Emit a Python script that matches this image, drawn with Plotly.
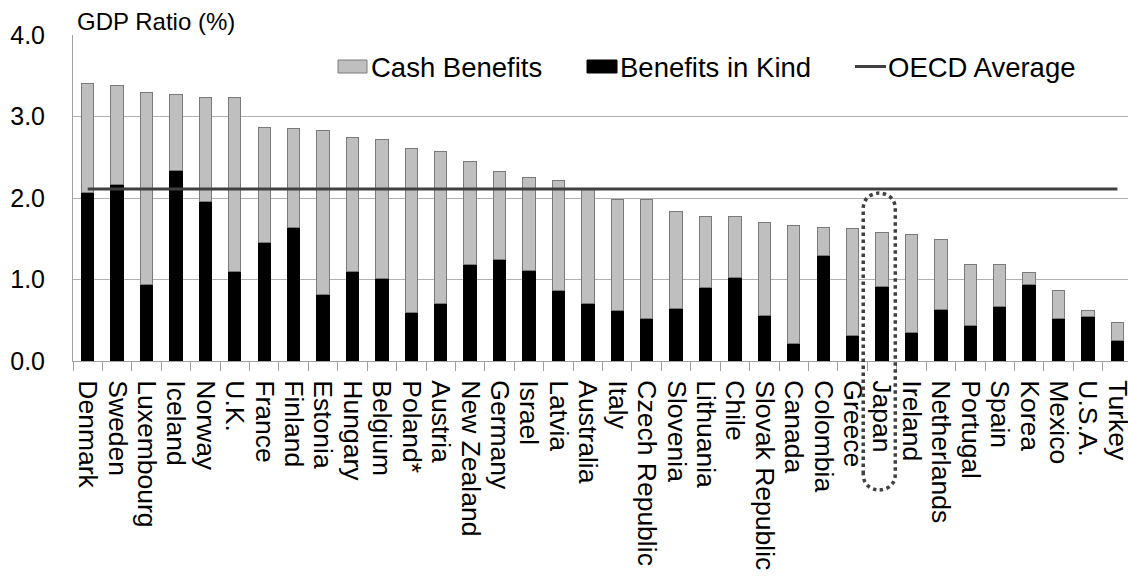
import plotly.graph_objects as go

countries = ["Denmark", "Sweden", "Luxembourg", "Iceland", "Norway", "U.K.", "France", "Finland",
             "Estonia", "Hungary", "Belgium", "Poland*", "Austria", "New Zealand", "Germany", "Israel",
             "Latvia", "Australia", "Italy", "Czech Republic", "Slovenia", "Lithuania", "Chile",
             "Slovak Republic", "Canada", "Colombia", "Greece", "Japan", "Ireland", "Netherlands",
             "Portugal", "Spain", "Korea", "Mexico", "U.S.A.", "Turkey"]

benefits_in_kind = [2.07, 2.16, 0.94, 2.34, 1.96, 1.10, 1.45, 1.64, 0.81, 1.10, 1.01, 0.60, 0.70, 1.18,
                    1.24, 1.11, 0.86, 0.70, 0.62, 0.52, 0.65, 0.90, 1.03, 0.56, 0.22, 1.30, 0.31, 0.92,
                    0.35, 0.63, 0.43, 0.67, 0.94, 0.52, 0.54, 0.25]
total = [3.40, 3.38, 3.29, 3.27, 3.23, 3.23, 2.87, 2.85, 2.83, 2.74, 2.72, 2.61, 2.57, 2.45, 2.32, 2.25,
         2.21, 2.10, 1.98, 1.98, 1.83, 1.77, 1.77, 1.70, 1.66, 1.64, 1.62, 1.58, 1.55, 1.49, 1.19, 1.19,
         1.09, 0.86, 0.62, 0.47]
cash_benefits = [round(t - k, 2) for t, k in zip(total, benefits_in_kind)]
oecd_average = 2.11

y_tick_vals = [0, 1, 2, 3, 4]
y_tick_text = ["0.0", "1.0", "2.0", "3.0", "4.0"]

FONT = "Liberation Sans, Arial, sans-serif"
W, H = 1128, 579
L, T, B = 73, 35, 218
x_range = [-0.5, 35.36]
plot_w = W - L
plot_h = H - T - B

fig = go.Figure()
fig.add_trace(go.Bar(x=countries, y=benefits_in_kind, name="Benefits in Kind",
                     marker=dict(color="#000000", line=dict(color="#000000", width=1)),
                     width=0.42, showlegend=False))
fig.add_trace(go.Bar(x=countries, y=cash_benefits, name="Cash Benefits",
                     marker=dict(color="#bfbfbf", line=dict(color="#7a7a7a", width=1)),
                     width=0.42, showlegend=False))
fig.add_trace(go.Scatter(x=countries, y=[oecd_average] * len(countries), mode="lines",
                         name="OECD Average", line=dict(color="#404040", width=3),
                         showlegend=False))


def px_x(p):
    return (p - L) / plot_w


def px_y(p):
    return (H - B - p) / plot_h


shapes = []
# legend swatches
shapes.append(dict(type="rect", xref="paper", yref="paper", x0=px_x(338), x1=px_x(367),
                   y0=px_y(73), y1=px_y(60), fillcolor="#bfbfbf", line=dict(color="#7a7a7a", width=1)))
shapes.append(dict(type="rect", xref="paper", yref="paper", x0=px_x(587), x1=px_x(617),
                   y0=px_y(73), y1=px_y(60), fillcolor="#000000", line=dict(color="#000000", width=1)))
shapes.append(dict(type="line", xref="paper", yref="paper", x0=px_x(855), x1=px_x(886),
                   y0=px_y(66.5), y1=px_y(66.5), line=dict(color="#404040", width=3)))

# dotted highlight around Japan
ji = countries.index("Japan")
span = x_range[1] - x_range[0]


def cx(v):
    return (v - x_range[0]) / span


xl, xr = cx(ji - 0.64), cx(ji + 0.45)
xm = (xl + xr) / 2
yt, yts = px_y(193), px_y(209)
yb, ybs = px_y(490), px_y(474)
path = (f"M {xl},{ybs} L {xl},{yts} C {xl},{yt} {xm},{yt} {xm},{yt} "
        f"C {xm},{yt} {xr},{yt} {xr},{yts} L {xr},{ybs} C {xr},{yb} {xm},{yb} {xm},{yb} "
        f"C {xm},{yb} {xl},{yb} {xl},{ybs} Z")
shapes.append(dict(type="path", xref="paper", yref="paper", path=path,
                   line=dict(color="#404040", width=3.5, dash="dot")))

annotations = [
    dict(text="GDP Ratio (%)", xref="paper", yref="paper", x=px_x(75), y=1.0, xanchor="left",
         yanchor="bottom", yshift=-2, showarrow=False, font=dict(size=24, color="#000", family=FONT)),
    dict(text="Cash Benefits", xref="paper", yref="paper", x=px_x(369), y=px_y(67), xanchor="left",
         yanchor="middle", showarrow=False, font=dict(size=27.5, color="#000", family=FONT)),
    dict(text="Benefits in Kind", xref="paper", yref="paper", x=px_x(618), y=px_y(67), xanchor="left",
         yanchor="middle", showarrow=False, font=dict(size=27.5, color="#000", family=FONT)),
    dict(text="OECD Average", xref="paper", yref="paper", x=px_x(886), y=px_y(67), xanchor="left",
         yanchor="middle", showarrow=False, font=dict(size=27.5, color="#000", family=FONT)),
]

fig.update_layout(
    width=W, height=H,
    margin=dict(l=L, r=0, t=T, b=B, autoexpand=False),
    paper_bgcolor="white", plot_bgcolor="white",
    barmode="stack",
    font=dict(family=FONT, color="#000"),
    shapes=shapes, annotations=annotations,
    showlegend=False,
)
fig.update_xaxes(type="category", range=x_range, tickangle=90, tickson="boundaries",
                 tickmode="array", tickvals=countries, ticktext=countries,
                 ticks="outside", ticklen=9, tickcolor="#a0a0a0", showline=True,
                 linecolor="#a0a0a0", linewidth=1, showgrid=False,
                 tickfont=dict(size=26.5, family=FONT, color="#000"), automargin=False,
                 ticklabelstandoff=13)
fig.update_yaxes(range=[0, 4], tickvals=y_tick_vals, ticktext=y_tick_text, showgrid=True,
                 gridcolor="#b0b0b0", gridwidth=1, showline=True, linecolor="#a0a0a0",
                 linewidth=1, zeroline=False, ticks="", automargin=False,
                 tickfont=dict(size=25, family=FONT, color="#000"), ticklabelstandoff=22)

fig.write_html("out.html", config={"displayModeBar": False},
               post_script="document.body.style.margin='0';")
